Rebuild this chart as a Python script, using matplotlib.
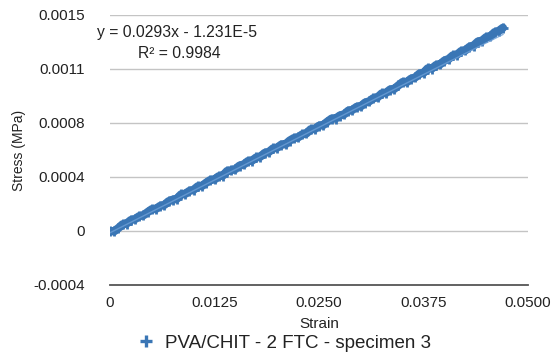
import numpy as np
import matplotlib
matplotlib.use("Agg")
import matplotlib.pyplot as plt
from matplotlib.lines import Line2D

plt.rcParams['font.family'] = ['Liberation Sans', 'DejaVu Sans']

# Tensile test: strain (-) vs stress, sampled every 0.0005 strain
strain = np.arange(95) * 0.0005
stress_uMPa = [
    -1, -2, 20, 46, 52, 76, 83, 103, 109, 131,
    151, 154, 174, 181, 206, 217, 224, 254, 258, 278,
    286, 310, 313, 335, 354, 358, 380, 385, 416, 422,
    430, 454, 462, 485, 489, 511, 517, 542, 549, 573,
    579, 600, 603, 628, 645, 650, 671, 678, 706, 709,
    731, 736, 759, 780, 781, 802, 810, 835, 841, 862,
    866, 891, 900, 922, 928, 955, 959, 982, 987, 1011,
    1034, 1034, 1057, 1066, 1092, 1098, 1129, 1128, 1152, 1158,
    1183, 1194, 1219, 1224, 1249, 1254, 1279, 1288, 1315, 1322,
    1346, 1351, 1380, 1389, 1411,
]
stress = np.array(stress_uMPa) * 1e-6

# Linear trendline reported on the chart
slope = 0.0293
intercept = -1.231e-5
r_squared = 0.9984

series_label = "PVA/CHIT - 2 FTC - specimen 3"
y_ticks = [-0.000375, 0.0, 0.000375, 0.00075, 0.001125, 0.0015]
y_tick_labels = ['-0.0004', '0', '0.0004', '0.0008', '0.0011', '0.0015']
x_ticks = [0.0, 0.0125, 0.025, 0.0375, 0.05]
x_tick_labels = ['0', '0.0125', '0.0250', '0.0375', '0.0500']

W, H = 555, 358
fig = plt.figure(figsize=(W / 100, H / 100), dpi=100)
ax = fig.add_axes([110 / W, 1 - 285 / H, 418 / W, 270 / H])

blue = '#3a76b5'
# dense sample run: thick trace with cross markers on top
ax.plot(strain, stress, color=blue, lw=6, solid_capstyle='round', zorder=2)
ax.plot(strain, stress, linestyle='none', marker='+', markersize=7,
        markeredgewidth=2.0, color=blue, zorder=3)
xt = np.array([strain[0], strain[-1]])
ax.plot(xt, slope * xt + intercept, color='#6d9fd6', lw=1.0, alpha=0.8, zorder=4)

ax.set_xlim(0, 0.05)
ax.set_ylim(-0.000375, 0.0015)
ax.set_yticks(y_ticks)
ax.set_yticklabels(y_tick_labels)
ax.set_xticks(x_ticks)
ax.set_xticklabels(x_tick_labels)
ax.tick_params(axis='both', length=0, labelsize=11, colors='#222222')
ax.tick_params(axis='y', pad=18)
ax.tick_params(axis='x', pad=8)

for v in y_ticks[1:]:
    ax.axhline(v, color='#c4c4c4', lw=1.0, zorder=1)
for s in ['top', 'right', 'left']:
    ax.spines[s].set_visible(False)
ax.spines['bottom'].set_color('#555555')
ax.spines['bottom'].set_linewidth(1.3)

ax.set_xlabel('Strain', fontsize=11, labelpad=5, color='#222222')
ax.set_ylabel('Stress (MPa)', fontsize=10, labelpad=5, color='#222222')

fig.text(177 / W, 1 - 32 / H, f"y = {slope}x - 1.231E-5", ha='center', va='center',
         fontsize=11.3, color='#222222')
fig.text(179 / W, 1 - 53 / H, f"R² = {r_squared}", ha='center', va='center',
         fontsize=11.3, color='#222222')

handle = Line2D([], [], linestyle='none', marker='+', markersize=9,
                markeredgewidth=2.4, color=blue)
fig.legend([handle], [series_label], loc='center', bbox_to_anchor=(283 / W, 1 - 343 / H),
           frameon=False, fontsize=13.5, handletextpad=0.4, handlelength=1.2,
           borderpad=0, labelcolor='#222222')

fig.savefig('out.png', dpi=100)
